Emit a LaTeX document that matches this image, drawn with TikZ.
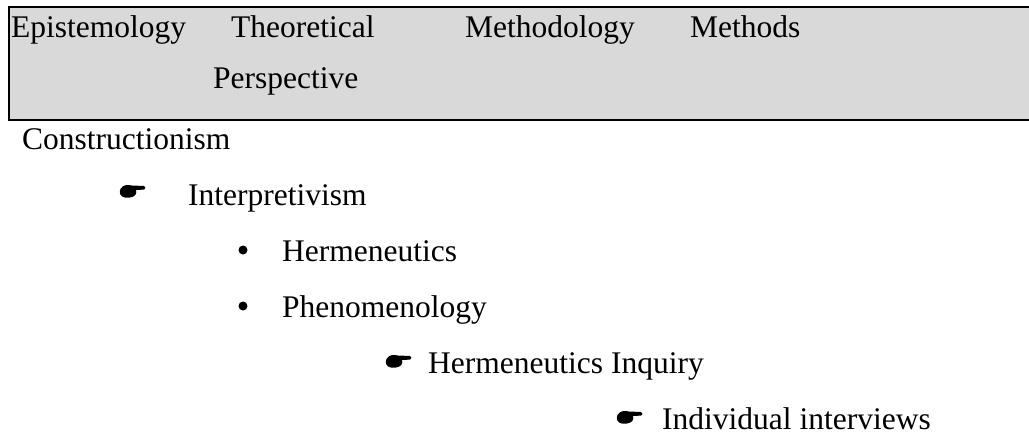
\documentclass[tikz,border=0pt]{standalone}
\usepackage{fontspec}
\setmainfont{Liberation Serif}
\definecolor{boxgray}{HTML}{D9D9D9}
\begin{document}
\begin{tikzpicture}[x=1pt,y=-1pt,
  txt/.style={anchor=base west,inner sep=0pt,font=\fontsize{31.5}{36}\selectfont},
  bulletdot/.style={circle,fill=black,inner sep=0pt,minimum size=9pt},
  handicon/.pic={
    \fill[black] (0.5,-2) .. controls (3,-6.5) and (8,-6.5) .. (12,-5.5)
      -- (24,-5) .. controls (26,-4.6) and (26,-1.6) .. (24,-1.4)
      -- (16,-1) .. controls (17,2) and (15.5,5) .. (12,6)
      .. controls (8,7.5) and (2,7) .. (0.3,3.5)
      .. controls (-0.5,1.5) and (-0.3,-0.5) .. (0.5,-2) -- cycle;
  }]
\useasboundingbox (0,0) rectangle (1029,437);
\fill[boxgray] (9,7) rectangle (1029,120);
\draw[line width=2.2pt] (1029,7) -- (9,7) -- (9,120) -- (1029,120);
\node[txt] (epi) at (11,37) {Epistemology};
\node[txt] (theo) at (231,37) {Theoretical};
\node[txt] (persp) at (213,88) {Perspective};
\node[txt] (mthy) at (465,37) {Methodology};
\node[txt] (mths) at (690,37) {Methods};
\node[txt] (cons) at (22,149) {Constructionism};
\pic (h1) at (120,191) {handicon};
\node[txt] (interp) at (188,205) {Interpretivism};
\node[bulletdot] (b1) at (243,250) {};
\node[txt] (herm) at (282,261) {Hermeneutics};
\node[bulletdot] (b2) at (243,306) {};
\node[txt] (phen) at (282,317) {Phenomenology};
\pic (h2) at (386,361) {handicon};
\node[txt] (hinq) at (428,373) {Hermeneutics Inquiry};
\pic (h3) at (617,417) {handicon};
\node[txt] (indiv) at (662,429) {Individual interviews};
\end{tikzpicture}
\end{document}
